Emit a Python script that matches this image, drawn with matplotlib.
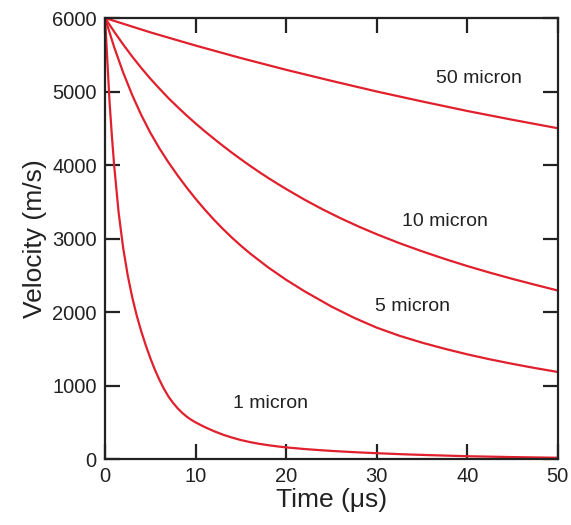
import matplotlib.pyplot as plt

plt.rcParams['font.family'] = ['Liberation Sans', 'DejaVu Sans']

# values (time in us, velocity in m/s)
t_1um = [0, 0.25, 0.5, 0.75, 1.0, 1.5, 2.0, 2.5, 3.0, 3.5, 4.0, 4.5, 5.0, 5.5, 6.0,
         6.5, 7.0, 7.5, 8.0, 8.5, 9.0, 9.5, 10, 11, 12, 13, 14, 15, 16, 17, 18, 19,
         20, 22, 24, 26, 28, 30, 33, 36, 40, 45, 50]
v_1um = [6000, 5420, 4850, 4400, 4000, 3350, 2870, 2500, 2200, 1950, 1735, 1545, 1372, 1215, 1078,
         955, 850, 765, 692, 630, 578, 535, 498, 435, 380, 332, 292, 258, 230, 207, 188, 172,
         158, 136, 118, 103, 90, 79, 64, 52, 38, 26, 17]

t_5um = [0, 1, 2, 3, 4, 5, 6, 7, 8, 9, 10, 11, 12, 13, 14, 15, 16, 18, 20, 22,
         25, 27.5, 30, 32.5, 35, 37.5, 40, 42.5, 45, 47.5, 50]
v_5um = [6000, 5605, 5258, 4951, 4679, 4439, 4227, 4036, 3860, 3695, 3540, 3395, 3259, 3132, 3013, 2902, 2798, 2608, 2438, 2284,
         2074, 1921, 1787, 1677, 1583, 1500, 1424, 1356, 1294, 1237, 1184]

t_10um = [0, 1, 2, 3, 4, 5, 6, 7, 8, 9, 10, 11, 12, 13, 14, 15, 16, 17, 18, 19,
          20, 22, 24, 26, 28, 30, 32.5, 35, 37.5, 40, 42.5, 45, 47.5, 50]
v_10um = [6000, 5815, 5640, 5475, 5320, 5175, 5040, 4910, 4790, 4675, 4565, 4460, 4360, 4262, 4168, 4078, 3990, 3906, 3825, 3748,
          3673, 3530, 3398, 3276, 3163, 3058, 2937, 2826, 2722, 2625, 2535, 2450, 2370, 2292]

t_50um = [0, 5, 10, 15, 20, 25, 30, 35, 40, 45, 50]
v_50um = [6000, 5805, 5625, 5455, 5295, 5145, 5000, 4865, 4735, 4615, 4500]

labels = ['1 micron', '5 micron', '10 micron', '50 micron']
label_pos = [(18.3, 760), (34.0, 2080), (37.5, 3225), (41.3, 5180)]

red = '#e0202c'

fig = plt.figure(figsize=(5.71, 5.25), dpi=100)
ax = fig.add_axes([0.184, 0.1257, 0.793, 0.84])

for t, v in [(t_1um, v_1um), (t_5um, v_5um), (t_10um, v_10um), (t_50um, v_50um)]:
    ax.plot(t, v, color=red, linewidth=1.6, solid_joinstyle='round')

for name, (x, y) in zip(labels, label_pos):
    ax.text(x, y, name, fontsize=14, ha='center', va='center', color='#222222')

ax.set_xlim(0, 50)
ax.set_ylim(0, 6000)
ax.set_xticks(range(0, 51, 10))
ax.set_yticks(range(0, 6001, 1000))
ax.tick_params(direction='in', length=11, width=1.6, labelsize=14.5,
               top=True, right=True, colors='#222222', pad=6)
for sp in ax.spines.values():
    sp.set_linewidth(1.6)
    sp.set_color('#222222')

ax.set_xlabel('Time (μs)', fontsize=19, color='#222222', labelpad=1)
ax.set_ylabel('Velocity (m/s)', fontsize=19, color='#222222', labelpad=4)

fig.savefig('out.png', dpi=100)
